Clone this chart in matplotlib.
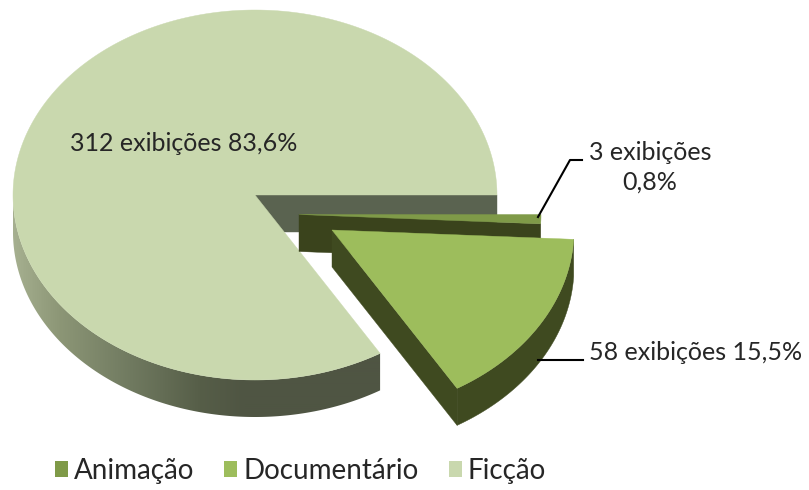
import numpy as np
import matplotlib
matplotlib.use("Agg")
import matplotlib.pyplot as plt
from matplotlib.patches import Polygon, Patch

categories = ["Animação", "Documentário", "Ficção"]
exhibitions = [3, 58, 312]
percents = ["0,8%", "15,5%", "83,6%"]

plt.rcParams["font.family"] = ["Lato", "DejaVu Sans"]
FS = 18
LEG_FS = 20
TXT = "#262626"
W, H = 809, 490
RX, RY, DEPTH = 242, 185, 37
centers = {"Ficção": (255, 195), "Documentário": (332, 230), "Animação": (299, 214.5)}
top_col = {"Ficção": "#c9d8ae", "Documentário": "#9dbd5c", "Animação": "#7f9a48"}
wall_col = {"Ficção": "#5a6350", "Documentário": "#3f4a20", "Animação": "#3a431c"}

fig = plt.figure(figsize=(W / 100, H / 100), dpi=100)
ax = fig.add_axes([0, 0, 1, 1])
ax.axis("off")

# slice angles from the values (counter-clockwise from east)
order = ["Ficção", "Documentário", "Animação"]
val = dict(zip(categories, exhibitions))
total = sum(exhibitions)
spans = {}
a = 0.0
for c in order:
    spans[c] = (a, a + 360.0 * val[c] / total)
    a = spans[c][1]


def pt(c, deg):
    cx, cy = centers[c]
    t = np.radians(deg)
    return cx + RX * np.cos(t), cy - RY * np.sin(t)


def arc(c, a0, a1, n=200):
    return np.array([pt(c, d) for d in np.linspace(a0, a1, n)])


def top(c, z):
    a0, a1 = spans[c]
    poly = np.vstack([[centers[c]], arc(c, a0, a1, 300)])
    ax.add_patch(Polygon(poly, closed=True, fc=top_col[c], ec=top_col[c], lw=0.3, zorder=z))


def flat_wall(c, deg, z):
    p0 = np.array(centers[c])
    p1 = np.array(pt(c, deg))
    d = np.array([0, DEPTH])
    ax.add_patch(Polygon([p0, p1, p1 + d, p0 + d], closed=True, fc=wall_col[c], ec=wall_col[c], lw=0.3, zorder=z))


def rim_poly(c, a0, a1):
    pts = arc(c, a0, a1, 300)
    return np.vstack([pts, pts[::-1] + [0, DEPTH]])


def rim(c, a0, a1, z, color):
    ax.add_patch(Polygon(rim_poly(c, a0, a1), closed=True, fc=color, ec=color, lw=0.3, zorder=z))


# Ficção: inner wall, shaded rim, top face
f0, f1 = spans["Ficção"]
flat_wall("Ficção", f0, 1)
stops_x = [13, 60, 130, 200, 245, 400]
stops_rgb = np.array([[0xa6, 0xb0, 0x90], [0x8c, 0x96, 0x76], [0x70, 0x7a, 0x60],
                      [0x56, 0x5e, 0x48], [0x4f, 0x55, 0x43], [0x4f, 0x55, 0x43]]) / 255
xs = np.arange(10, 400)
grad = np.stack([np.interp(xs, stops_x, stops_rgb[:, i]) for i in range(3)], axis=-1)[None, :, :]
clip = Polygon(rim_poly("Ficção", 180, f1), closed=True, transform=ax.transData, fc="none", ec="none")
ax.add_patch(clip)
ax.imshow(grad, extent=(10, 400, 440, 180), aspect="auto", zorder=2, clip_path=clip, interpolation="bilinear")
top("Ficção", 3)

# Animação
an0, an1 = spans["Animação"]
flat_wall("Animação", an0, 4)
top("Animação", 5)

# Documentário
d0, d1 = spans["Documentário"]
flat_wall("Documentário", d0, 6)
rim("Documentário", d0, d1, 6, wall_col["Documentário"])
top("Documentário", 7)

ax.set_xlim(0, W)
ax.set_ylim(H, 0)

# Data labels and leader lines
n = dict(zip(categories, exhibitions))
p = dict(zip(categories, percents))
ax.text(184, 143, f"{n['Ficção']} exibições {p['Ficção']}", ha="center", va="center", fontsize=FS, color=TXT, zorder=10)
ax.text(650, 167, f"{n['Animação']} exibições\n{p['Animação']}", ha="center", va="center", fontsize=FS,
        linespacing=1.35, color=TXT, zorder=10)
ax.text(695.5, 352, f"{n['Documentário']} exibições {p['Documentário']}", ha="center", va="center", fontsize=FS, color=TXT, zorder=10)
ax.plot([538, 570, 582], [217, 160, 160], color="black", lw=1.5, zorder=9)
ax.plot([538, 583], [360, 360], color="black", lw=1.5, zorder=9)

handles = [Patch(fc=top_col[c], ec="none") for c in categories]
leg = ax.legend(handles, categories, ncol=3, loc="center", bbox_to_anchor=(300.5 / W, 1 - 471 / H),
                frameon=False, fontsize=LEG_FS, handlelength=0.47, handleheight=0.47,
                handletextpad=0.22, columnspacing=1.08, labelcolor=TXT,
                borderpad=0, borderaxespad=0)

fig.savefig("out.png", dpi=100)
